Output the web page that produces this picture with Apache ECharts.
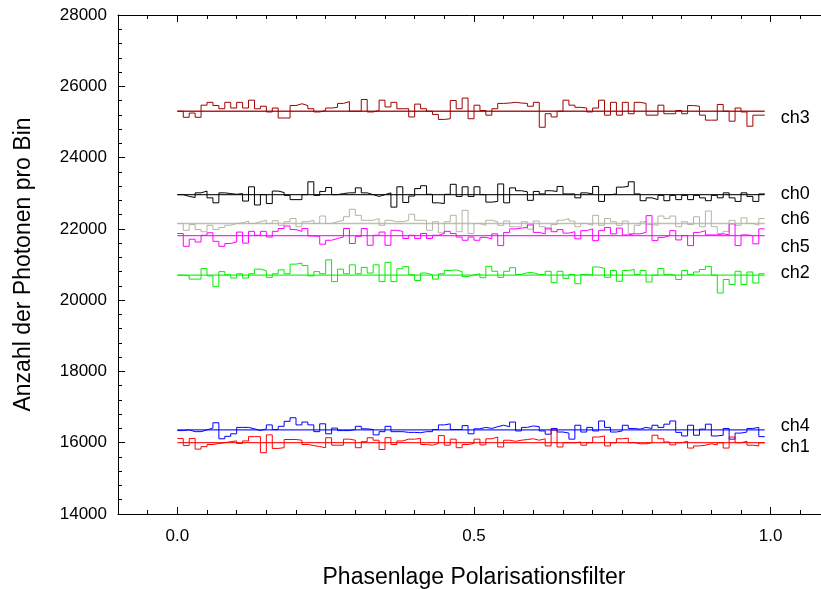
<!DOCTYPE html>
<html><head><meta charset="utf-8">
<script src="https://cdn.jsdelivr.net/npm/echarts@6/dist/echarts.min.js"></script>
<style>html,body{margin:0;padding:0;background:#fff}#c{width:821px;height:589px}</style>
</head><body><div id="c"></div>
<script>
// bin width of the phase histogram
const binWidth = 0.01;

// tick labels
const xTickLabels = [0, 0.5, 1.0];

// channel names (drawing order) and fitted constant levels
const channelNames = ['ch3', 'ch0', 'ch6', 'ch5', 'ch2', 'ch4', 'ch1'];
const fitLevels = [25300, 22960, 22150, 21810, 20700, 16360, 16000];

// photon counts per bin for each channel
const ch3 = [25300,25130,25250,25130,25470,25550,25460,25370,25550,25390,25550,25390,25610,25370,25440,25280,25390,25110,25110,25460,25510,25460,25370,25280,25320,25390,25410,25520,25570,25300,25300,25630,25280,25320,25610,25420,25550,25370,25370,25140,25500,25370,25300,25210,25070,25090,25600,25370,25670,25090,25470,
25320,25190,25370,25520,25530,25550,25530,25520,25440,25550,24850,25230,25140,25300,25610,25470,25410,25390,25280,25390,25610,25190,25550,25190,25550,25230,25550,25520,25190,25190,25470,25230,25230,25320,25230,25460,25440,25190,25050,25050,25490,25300,25020,25390,25280,24880,25190,25190];
const ch0 = [22960,22910,22880,23010,23060,22870,22730,23010,22990,22970,22990,22780,23180,22670,22960,22710,23060,23020,22940,22820,22820,22960,23320,22940,23050,23160,22960,22990,23010,23010,23150,23010,22960,22910,22960,23010,22610,23180,22740,22920,23130,23210,22970,22730,22710,22970,23250,22910,23180,22910,23180,
22960,22750,22770,23260,22730,23150,23070,23040,22800,23050,22980,23070,23050,23190,22980,22980,22870,23010,22980,23190,22770,22960,22980,23170,23190,23320,22980,22790,22870,22820,22940,22790,22940,22820,22940,22820,22940,22870,22790,22940,22870,23010,22870,22770,23010,22910,22770,22980];
const ch6 = [22150,21960,22120,21980,21920,22100,21980,22040,22100,22150,22170,22220,22150,22200,22240,22150,22230,22100,22200,22290,22060,22200,22240,22150,22360,22150,22200,22240,22340,22550,22380,22240,22240,22290,22100,22240,22200,22200,22240,22410,22240,22240,21960,22200,21890,22200,22380,21920,22520,21870,22150,
22100,22240,22200,22100,22220,22060,22060,22200,21990,22220,22060,21990,22120,22240,22290,22220,22060,22150,22100,22380,22100,22290,22200,22100,22220,21870,22100,22200,22120,22100,22360,22290,22360,22060,22200,22120,22340,22060,22500,22060,21870,21930,22240,22100,22310,22150,22100,22290];
const ch5 = [21870,21510,21710,21630,21820,21890,21650,21510,21590,21630,21910,21600,21930,21820,21930,21770,21930,22010,22080,21980,21930,22010,21800,21790,21570,21680,21730,21770,22010,21590,21790,22010,21540,21820,21910,21540,21960,21930,21730,21820,21730,21870,21730,21820,21870,21930,21870,21770,21680,21770,21680,
21760,21720,21860,21530,21900,22000,22020,22040,22110,21900,21860,22020,21920,21980,21880,21920,21720,21950,22000,21670,21950,22040,21860,22020,21830,21860,21860,21900,22370,21670,21760,21810,21950,21690,21810,21530,21900,21950,21830,21830,21860,21830,22140,21530,21830,21810,21580,22000];
const ch2 = [20700,20680,20590,20590,20890,20680,20380,20800,20710,20620,20740,20620,20740,20870,20830,20640,20740,20850,20740,21010,21040,20970,20680,20800,20740,21130,20520,20870,20740,20990,20740,20920,20760,20990,20520,21060,20520,20880,20940,20710,20550,20760,20710,20590,20740,20830,20850,20800,20660,20710,20740,
20630,20950,20810,20640,20810,20910,20720,20770,20770,20720,20720,20810,20490,20810,20610,20720,20460,20720,20700,20930,20890,20640,20830,20530,20830,20860,20720,20830,20510,20700,20890,20720,20700,20580,20830,20720,20790,20860,20950,20700,20200,20580,20440,20810,20440,20790,20480,20740];
const ch4 = [16340,16360,16310,16310,16360,16410,16560,16110,16180,16250,16430,16430,16390,16340,16390,16500,16370,16460,16600,16700,16500,16580,16500,16310,16530,16250,16410,16340,16340,16370,16460,16390,16370,16220,16310,16460,16310,16310,16290,16290,16280,16310,16310,16370,16500,16530,16370,16370,16480,16250,16390,
16430,16400,16450,16490,16450,16580,16330,16430,16470,16450,16330,16240,16400,16300,16270,16100,16490,16300,16430,16330,16610,16430,16300,16330,16490,16400,16380,16430,16400,16490,16430,16520,16610,16290,16190,16490,16210,16380,16520,16190,16210,16400,16100,16270,16300,16400,16430,16170];
const ch1 = [16120,15920,16120,15820,15890,15950,15980,16000,16030,16050,15980,16050,16170,16170,15720,16220,15840,15860,16090,16090,16070,15950,15920,15890,15860,16140,15930,15930,16100,16070,15860,16030,16140,16070,15810,16140,15950,16050,16100,16100,16120,15950,15930,15980,16200,15930,16100,15860,15950,15980,16100,
15940,16110,16160,15880,16070,16040,16070,16090,16110,16070,16110,15910,16350,15880,16000,16000,16020,15930,16000,16160,16190,15910,16000,16110,16130,16000,15970,15970,16000,16210,16110,16020,15940,16000,16040,15850,15910,15930,15970,15940,16000,15850,16160,16000,16040,15930,15910,16000];

const channelValues = [ch3, ch0, ch6, ch5, ch2, ch4, ch1];

// styles (kept apart from the data)
const channelColors = ['#a00000', '#000000', '#b4b4a4', '#ff00ff', '#00ee00', '#0000ff', '#ff0000'];
const labelOffsets = [[0, 7], [0, -1], [0, -4], [0, 11], [0, -2], [0, -4], [0, 4]];

const FONT = 'Liberation Sans, Arial, sans-serif';

const series = [];
channelValues.forEach((vals, k) => {
  const pts = vals.map((v, i) => [i * binWidth, v]);
  pts.push([vals.length * binWidth, vals[vals.length - 1]]);
  series.push({
    type: 'line', name: channelNames[k] + ' hist', data: pts, step: 'end',
    symbol: 'none', silent: true,
    lineStyle: { color: channelColors[k], width: 1 }, z: 2
  });
});
channelValues.forEach((vals, k) => {
  series.push({
    type: 'line', name: channelNames[k],
    data: [[0, fitLevels[k]], [vals.length * binWidth, fitLevels[k]]],
    symbol: 'none', silent: true,
    lineStyle: { color: channelColors[k], width: 1.3, opacity: 0.85 }, z: 3,
    endLabel: {
      show: true, formatter: channelNames[k], distance: 16, offset: labelOffsets[k],
      color: '#000', fontFamily: FONT, fontSize: 18
    }
  });
});

const axisLine = { show: true, onZero: false, lineStyle: { color: '#000', width: 1 } };

const option = {
  animation: false,
  backgroundColor: '#fff',
  grid: { left: 118, top: 15, bottom: 75, right: -9, containLabel: false, outerBoundsMode: 'none' },
  xAxis: [
    {
      type: 'value', position: 'bottom', min: -0.1, max: 1.1, interval: 0.05,
      axisLine: axisLine,
      axisTick: { show: true, inside: true, length: 4, lineStyle: { color: '#000' } },
      axisLabel: { customValues: xTickLabels, formatter: v => v.toFixed(1), color: '#000', fontFamily: FONT, fontSize: 17, margin: 14 },
      splitLine: { show: false },
      name: 'Phasenlage Polarisationsfilter', nameLocation: 'middle', nameGap: 52,
      nameTextStyle: { color: '#000', fontFamily: FONT, fontSize: 23 }
    },
    {
      type: 'value', position: 'top', min: -0.1, max: 1.1, interval: 0.05,
      axisLine: axisLine,
      axisTick: { show: true, inside: true, length: 4, lineStyle: { color: '#000' } },
      axisLabel: { show: false }, splitLine: { show: false }
    },
    {
      type: 'value', position: 'bottom', min: -0.1, max: 1.1, interval: 0.05,
      axisLine: { show: false },
      axisTick: { show: true, inside: true, length: 7, customValues: xTickLabels, lineStyle: { color: '#000' } },
      axisLabel: { show: false }, splitLine: { show: false }
    },
    {
      type: 'value', position: 'top', min: -0.1, max: 1.1, interval: 0.05,
      axisLine: { show: false },
      axisTick: { show: true, inside: true, length: 7, customValues: xTickLabels, lineStyle: { color: '#000' } },
      axisLabel: { show: false }, splitLine: { show: false }
    }
  ],
  yAxis: {
    type: 'value', min: 14000, max: 28000, interval: 2000,
    axisLine: axisLine,
    axisTick: { show: true, inside: true, length: 7, lineStyle: { color: '#000' } },
    minorTick: { show: true, splitNumber: 5, length: 4, lineStyle: { color: '#000' } },
    axisLabel: { formatter: v => String(v), color: '#000', fontFamily: FONT, fontSize: 17, margin: 11 },
    splitLine: { show: false }, minorSplitLine: { show: false },
    name: 'Anzahl der Photonen pro Bin', nameLocation: 'middle', nameGap: 83,
    nameTextStyle: { color: '#000', fontFamily: FONT, fontSize: 23 }
  },
  series: series
};

const chart = echarts.init(document.getElementById('c'), null, { renderer: 'canvas' });
chart.setOption(option);
</script>
</body></html>
